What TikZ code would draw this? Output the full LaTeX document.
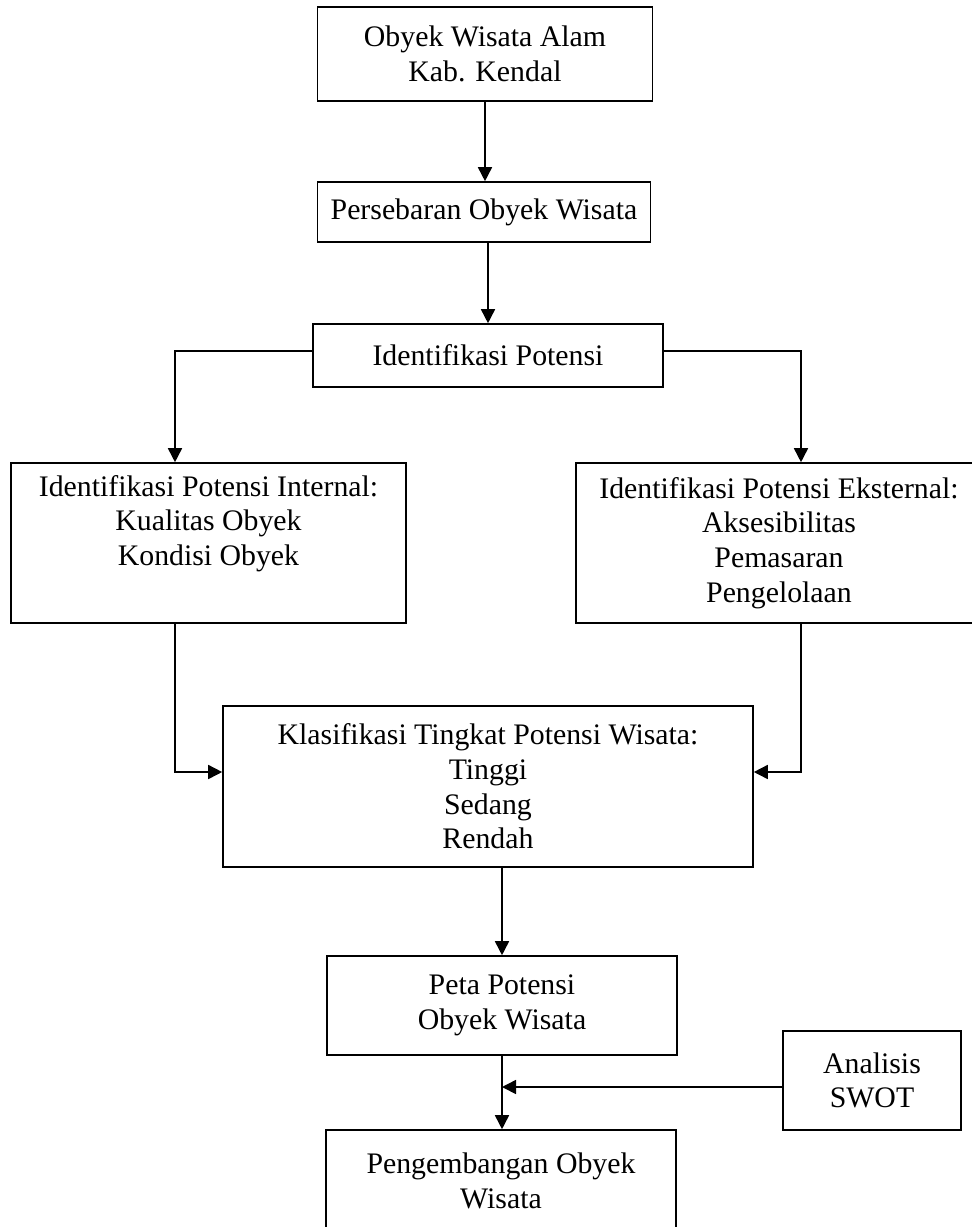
\documentclass[tikz,border=0pt]{standalone}
\usepackage{fontspec}
\setmainfont{Liberation Serif}
\usetikzlibrary{arrows.meta}
\begin{document}
\begin{tikzpicture}[x=1pt,y=-1pt,
  box/.style={draw, line width=1.6pt, align=center, inner sep=0pt,
    font=\fontsize{29.8pt}{34.7pt}\selectfont},
  conn/.style={line width=1.6pt},
  arr/.style={conn, -{Triangle[length=14pt,width=14pt]}}]
\useasboundingbox (0,0) rectangle (972,1227);
\clip (0,0) rectangle (972,1227);
\node[box, minimum width=335pt, minimum height=94pt] (b1) at (485,54) {Obyek Wisata Alam\\Kab. Kendal};
\node[box, minimum width=333pt, minimum height=60pt] (b2) at (484,212) {Persebaran Obyek Wisata};
\node[box, minimum width=350pt, minimum height=63pt] (b3) at (488,355.5) {Identifikasi Potensi};
\node[box, minimum width=395pt, minimum height=160pt] (b4) at (208.5,543) {Identifikasi Potensi Internal:\\Kualitas Obyek\\Kondisi Obyek\\\strut};
\node[box, minimum width=406pt, minimum height=160pt] (b5) at (779,543) {Identifikasi Potensi Eksternal:\\Aksesibilitas\\Pemasaran\\Pengelolaan};
\node[box, minimum width=530pt, minimum height=161pt] (b6) at (488,786.5) {Klasifikasi Tingkat Potensi Wisata:\\Tinggi\\Sedang\\Rendah};
\node[box, minimum width=350pt, minimum height=99pt] (b7) at (502,1005.5) {Peta Potensi\\Obyek Wisata};
\node[box, minimum width=178pt, minimum height=99pt] (b8) at (872,1080.5) {Analisis\\SWOT};
\node[box, minimum width=350pt, minimum height=102pt] (b9) at (501,1181) {Pengembangan Obyek\\Wisata};

\coordinate (jl) at (175,351);
\coordinate (jr) at (801,351);
\coordinate (ml) at (175,772);
\coordinate (mr) at (801,772);
\coordinate (sj) at (502,1087);

\draw[arr] (b1.south) -- (b1.south |- b2.north);
\draw[arr] (b3.north |- b2.south) -- (b3.north);
\draw[arr] (jl -| b3.west) -- (jl) -- (jl |- b4.north);
\draw[arr] (jr -| b3.east) -- (jr) -- (jr |- b5.north);
\draw[arr] (ml |- b4.south) -- (ml) -- (ml -| b6.west);
\draw[arr] (mr |- b5.south) -- (mr) -- (mr -| b6.east);
\draw[arr] (b7.north |- b6.south) -- (b7.north);
\draw[arr] (b7.south) -- (b7.south |- b9.north);
\draw[arr] (sj -| b8.west) -- (sj);
\end{tikzpicture}
\end{document}
